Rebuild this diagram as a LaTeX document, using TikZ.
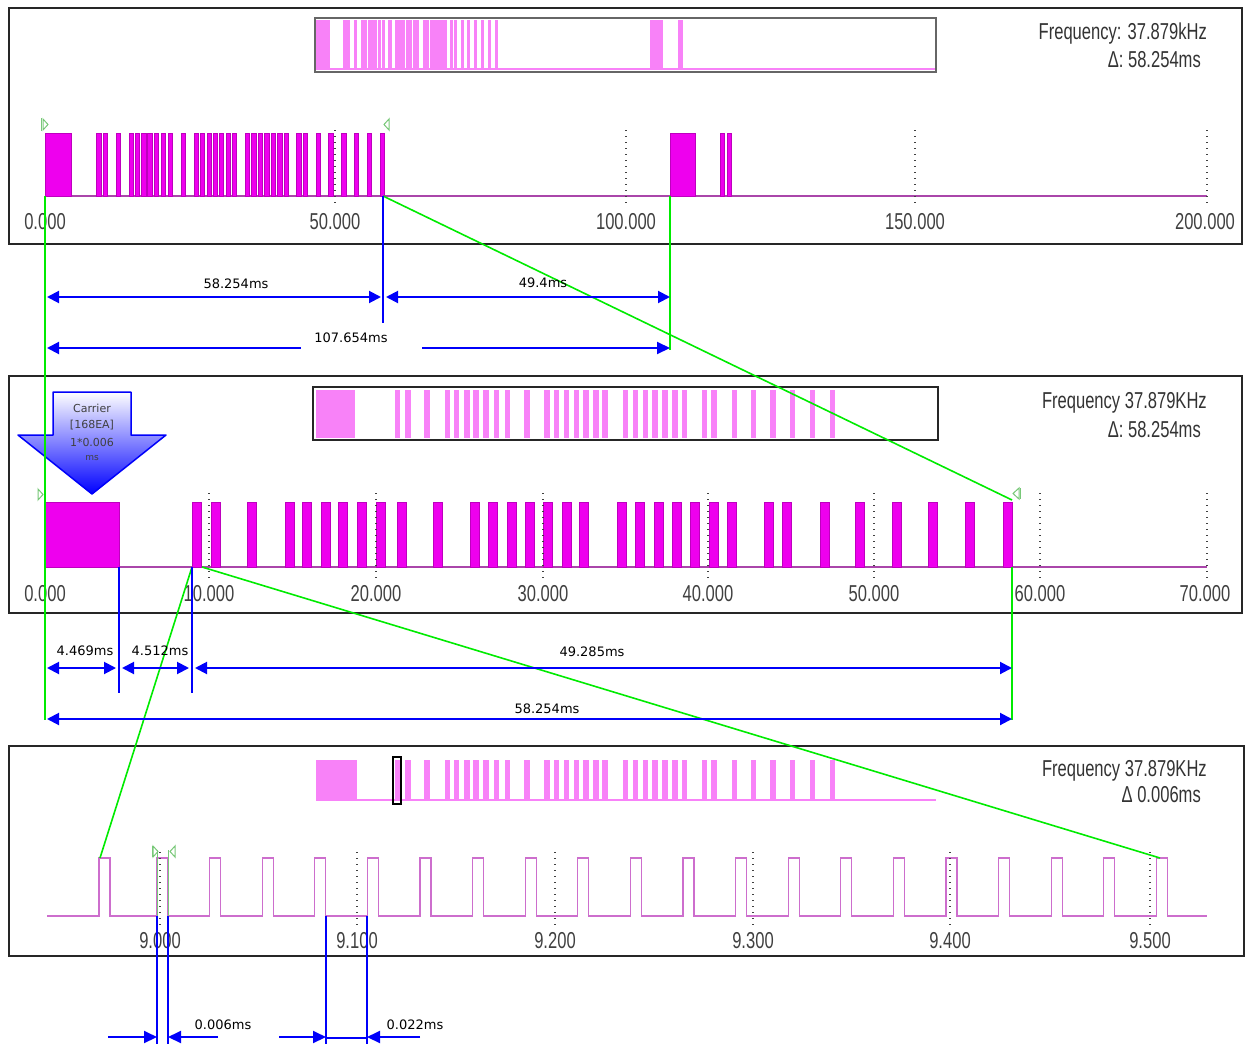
\documentclass[tikz,border=0pt]{standalone}
\usepackage{fontspec}
\setmainfont{Liberation Sans}
\newfontfamily\condfont[FakeStretch=0.72]{Liberation Sans}
\newfontfamily\dimfont{DejaVu Sans}
\usetikzlibrary{arrows.meta}
\definecolor{wave}{RGB}{238,0,238}
\definecolor{waveedge}{RGB}{190,0,190}
\definecolor{baseln}{RGB}{170,70,170}
\definecolor{ovpink}{RGB}{248,130,248}
\definecolor{thinwave}{RGB}{205,110,205}
\definecolor{dimblue}{RGB}{0,0,250}
\definecolor{cursorgreen}{RGB}{0,235,0}
\definecolor{markgreen}{RGB}{120,200,120}
\def\midbits{192,211,247,285,302,321,338,357,376,397,433,470,488,507,525,543,562,579,617,635,654,672,690,709,727,764,782,820,855,892,928,965,1003}
\tikzset{
 panel/.style={draw=black!85, line width=1.8pt, fill=white},
 ovbox/.style={draw=black!60, line width=1.5pt},
 bar/.style={fill=wave, draw=waveedge, line width=0.4pt},
 ovbar/.style={fill=ovpink},
 baseline/.style={draw=baseln, line width=1.6pt},
 gridln/.style={draw=black!75, line width=1.3pt, dash pattern=on 1.3pt off 4.7pt},
 ticklbl/.style={font=\condfont\fontsize{23}{23}\selectfont, text=black!75, inner sep=0pt},
 freqlbl/.style={font=\condfont\fontsize{23}{23}\selectfont, text=black!80, inner sep=0pt, anchor=east},
 dimlbl/.style={font=\dimfont\fontsize{13}{13}\selectfont, inner sep=0pt},
 calllbl/.style={font=\dimfont\fontsize{11}{11}\selectfont, text=black!75, inner sep=0pt},
 dim/.style={draw=dimblue, line width=2pt},
 dimboth/.style={dim, {Triangle[length=12pt,width=12pt]}-{Triangle[length=12pt,width=12pt]}},
 dimend/.style={dim, -{Triangle[length=13pt,width=12pt]}},
 dimstart/.style={dim, {Triangle[length=12pt,width=12pt]}-},
 ext/.style={draw=dimblue, line width=1.6pt},
 zoomline/.style={draw=cursorgreen, line width=1.6pt},
 marker/.style={draw=markgreen, line width=1pt},
}
\begin{document}
\begin{tikzpicture}[x=1pt,y=-1pt]
\useasboundingbox[fill=white] (0,0) rectangle (1248,1044);

% ================= PANEL 1 =================
\draw[panel] (9,8) rectangle (1242,244);
% overview
\fill[ovpink] (316,20) rectangle (330,70);
\foreach \x in \midbits {\fill[ovpink] ({316+(\x-45)*0.1867},20) rectangle ++(3.2,50);}
\fill[ovpink] (650,20) rectangle (663,70);
\fill[ovpink] (678,20) rectangle (683,70);
\draw[ovpink, line width=1.5pt] (316,69) -- (935,69);
\draw[ovbox] (315,18) rectangle (936,72);
\node[freqlbl] (f1) at (1207,34) {Frequency: 37.879kHz};
\node[freqlbl] (d1) at (1201,60) {Δ: 58.254ms};
% waveform
\draw[baseline] (45,196) -- (1207,196);
\draw[bar] (45,133) rectangle (71,196);
\foreach \x in \midbits {\draw[bar] ({45+(\x-45)*0.35},133) rectangle ++(4.3,63);}
\draw[bar] (670,133) rectangle (695,196);
\draw[bar] (720,133) rectangle (724,196);
\draw[bar] (727,133) rectangle (731,196);
\foreach \x in {335,626,915,1207} {\draw[gridln] (\x,130) -- (\x,206);}
\node[ticklbl] (t10) at (45,222) {0.000};
\node[ticklbl] (t11) at (335,222) {50.000};
\node[ticklbl] (t12) at (626,222) {100.000};
\node[ticklbl] (t13) at (915,222) {150.000};
\node[ticklbl] (t14) at (1205,222) {200.000};
\draw[marker] (41,118) -- (41,131);
\draw[marker] (43,119) -- (48,124.5) -- (43,130) -- cycle;
\draw[marker] (389,119) -- (384,124.5) -- (389,130) -- cycle;

% ================= PANEL 2 =================
\draw[panel] (9,376) rectangle (1242,613);
\fill[ovpink] (316,390) rectangle (355,438);
\foreach \x in \midbits {\fill[ovpink] ({316+(\x-45)*0.5365},390) rectangle ++(5.5,48);}
\draw[black!85, line width=1.6pt] (313,387) rectangle (938,440);
\node[freqlbl] (f2) at (1207,403) {Frequency 37.879KHz};
\node[freqlbl] (d2) at (1201,430) {Δ: 58.254ms};
\draw[baseline] (45,567) -- (1207,567);
\draw[bar] (45,502) rectangle (119,567);
\foreach \x in \midbits {\draw[bar] (\x,502) rectangle ++(9.5,65);}
\foreach \x in {209,376,543,708,874,1040,1207} {\draw[gridln] (\x,493) -- (\x,580);}
\node[ticklbl] (t20) at (45,594) {0.000};
\node[ticklbl] (t21) at (209,594) {10.000};
\node[ticklbl] (t22) at (376,594) {20.000};
\node[ticklbl] (t23) at (543,594) {30.000};
\node[ticklbl] (t24) at (708,594) {40.000};
\node[ticklbl] (t25) at (874,594) {50.000};
\node[ticklbl] (t26) at (1040,594) {60.000};
\node[ticklbl] (t27) at (1205,594) {70.000};
\draw[marker] (38,489) -- (43,494.5) -- (38,500) -- cycle;
\draw[marker] (1019,488) -- (1013,493.5) -- (1019,499) -- cycle;
\draw[marker] (1020,488) -- (1020,499);
% callout arrow
\shade[top color=white, bottom color=blue] (53,392) -- (131,392) -- (131,435) -- (166,435) -- (92,494) -- (18,435) -- (53,435) -- cycle;
\draw[dimblue, line width=1.5pt, line join=round] (53,392) -- (131,392) -- (131,435) -- (166,435) -- (92,494) -- (18,435) -- (53,435) -- cycle;
\node[calllbl] (c1) at (92,408) {Carrier};
\node[calllbl] (c2) at (92,425) {[168EA]};
\node[calllbl] (c3) at (92,442) {1*0.006};
\node[calllbl, font=\dimfont\fontsize{9}{9}\selectfont] (c4) at (92,458) {ms};

% ================= PANEL 3 =================
\draw[panel] (9,746) rectangle (1244,956);
\fill[ovpink] (316,760) rectangle (357,801);
\foreach \x in \midbits {\fill[ovpink] ({316+(\x-45)*0.5365},760) rectangle ++(5.5,41);}
\draw[ovpink, line width=1.3pt] (357,800) -- (936,800);
\draw[black, line width=1.5pt] (393,757) rectangle (401,804);
\node[freqlbl] (f3) at (1207,771) {Frequency 37.879KHz};
\node[freqlbl] (d3) at (1201,795) {Δ 0.006ms};
\draw[thinwave, line width=1.3pt] (47,916) -- (99,916) -- (99,858) -- (110,858) -- (110,916)
  \foreach \k in {0,...,19} { -- ({157+52.6*\k},916) -- ({157+52.6*\k},858) -- ({168+52.6*\k},858) -- ({168+52.6*\k},916) } -- (1207,916);
\foreach \x in {160,357,555,753,950,1150} {\draw[gridln] (\x,852) -- (\x,926);}
\node[ticklbl] (t30) at (160,941) {9.000};
\node[ticklbl] (t31) at (357,941) {9.100};
\node[ticklbl] (t32) at (555,941) {9.200};
\node[ticklbl] (t33) at (753,941) {9.300};
\node[ticklbl] (t34) at (950,941) {9.400};
\node[ticklbl] (t35) at (1150,941) {9.500};
\draw[marker] (157,850) -- (157,916);
\draw[marker] (168,850) -- (168,916);
\draw[marker] (152,846) -- (152,857);
\draw[marker] (153,846) -- (158,851.5) -- (153,857) -- cycle;
\draw[marker] (175,846) -- (170,851.5) -- (175,857) -- cycle;

% ================= named points =================
\coordinate (T0) at (45,196);
\coordinate (Tend) at (383,196);
\coordinate (Trep) at (670,196);
\coordinate (M0) at (45,567);
\coordinate (Mlead) at (119,567);
\coordinate (Mdata) at (192,567);
\coordinate (Mdata2) at (202,567);
\coordinate (Mend) at (1012,567);
\coordinate (Mendtop) at (1012,500);
\coordinate (Bfirst) at (100,858);
\coordinate (Blast) at (1160,858);
\coordinate (Bc1) at (157,916);
\coordinate (Bc2) at (168,916);
\coordinate (Bl1) at (326,916);
\coordinate (Bl2) at (367,916);

% ================= green zoom lines =================
\draw[zoomline] (T0) -- (45,720);
\draw[zoomline] (Trep) -- (670,350);
\draw[zoomline] (Tend) -- (Mendtop);
\draw[zoomline] (Mend) -- (1012,720);
\draw[zoomline] (Mdata) -- (Bfirst);
\draw[zoomline] (Mdata2) -- (Blast);

% ================= blue dimensions =================
\draw[ext] (Tend) -- (383,323);
\draw[dimboth] (47,297) -- (381,297);
\draw[dimboth] (386,297) -- (670,297);
\node[dimlbl] (l1) at (236,284) {58.254ms};
\node[dimlbl] (l2) at (543,283) {49.4ms};
\draw[dimstart] (47,348) -- (301,348);
\draw[dimend] (422,348) -- (670,348);
\node[dimlbl] (l3) at (351,338) {107.654ms};

\draw[ext] (Mlead) -- (119,693);
\draw[ext] (Mdata) -- (192,693);
\draw[dimboth] (47,668) -- (116,668);
\draw[dimboth] (122,668) -- (189,668);
\draw[dimboth] (195,668) -- (1012,668);
\node[dimlbl] (l4) at (85,651) {4.469ms};
\node[dimlbl] (l5) at (160,651) {4.512ms};
\node[dimlbl] (l6) at (592,652) {49.285ms};
\draw[dimboth] (47,719) -- (1012,719);
\node[dimlbl] (l7) at (547,709) {58.254ms};

\draw[ext] (Bc1) -- (157,1044);
\draw[ext] (Bc2) -- (168,1044);
\draw[ext] (Bl1) -- (326,1044);
\draw[ext] (Bl2) -- (367,1044);
\draw[dimend] (108,1037) -- (157,1037);
\draw[dimend] (218,1037) -- (168,1037);
\draw[dimend] (279,1037) -- (326,1037);
\draw[ext] (326,1038) -- (367,1038);
\draw[dimend] (420,1037) -- (367,1037);
\node[dimlbl] (l8) at (223,1025) {0.006ms};
\node[dimlbl] (l9) at (415,1025) {0.022ms};
\end{tikzpicture}
\end{document}
